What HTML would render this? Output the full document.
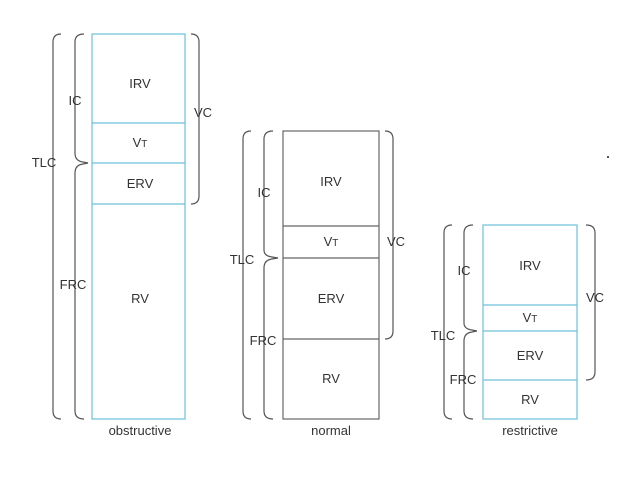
<!DOCTYPE html>
<html><head><style>body{margin:0;background:#fff}</style></head><body>
<svg width="638" height="479" xmlns="http://www.w3.org/2000/svg" font-family="Liberation Sans, sans-serif" font-size="13" fill="#333">
<g fill="none" stroke="#555" stroke-width="1.2">
<path d="M61,34 Q53,34 53,42 L53,411 Q53,419 61,419"/>
<path d="M84,34 Q75,34 75,42 L75,153 Q75,161 83,162 L88,163"/>
<path d="M88,163 L83,164 Q75,165 75,173 L75,411 Q75,419 84,419"/>
<path d="M191,34 Q199,34 199,42 L199,196 Q199,204 191,204"/>
<path d="M251,131 Q243,131 243,139 L243,411 Q243,419 251,419"/>
<path d="M273,131 Q264,131 264,139 L264,250 Q264,256 272,257 L278,258"/>
<path d="M278,258 L272,259 Q264,260 264,268 L264,411 Q264,419 273,419"/>
<path d="M385,131 Q393,131 393,139 L393,331 Q393,339 385,339"/>
<path d="M452,225 Q444,225 444,233 L444,411 Q444,419 452,419"/>
<path d="M473,225 Q464,225 464,233 L464,323 Q464,329 472,330 L477,331"/>
<path d="M477,331 L472,332 Q464,333 464,341 L464,411 Q464,419 473,419"/>
<path d="M586,225 Q595,225 595,233 L595,372 Q595,380 586,380"/>
</g>
<g fill="none" stroke="#6cc0dc" stroke-width="1.2">
<rect x="92" y="34" width="93" height="385"/>
<line x1="92" y1="123" x2="185" y2="123"/><line x1="92" y1="163" x2="185" y2="163"/><line x1="92" y1="204" x2="185" y2="204"/>
<rect x="483" y="225" width="94" height="194"/>
<line x1="483" y1="305" x2="577" y2="305"/><line x1="483" y1="331" x2="577" y2="331"/><line x1="483" y1="380" x2="577" y2="380"/>
</g>
<g fill="none" stroke="#666" stroke-width="1.2">
<rect x="283" y="131" width="96" height="288"/>
<line x1="283" y1="226" x2="379" y2="226"/><line x1="283" y1="258" x2="379" y2="258"/><line x1="283" y1="339" x2="379" y2="339"/>
</g>
<g text-anchor="middle">
<text x="140" y="88">IRV</text><text x="140" y="147">V<tspan font-size="10">T</tspan></text><text x="140" y="188">ERV</text><text x="140" y="303">RV</text>
<text x="331" y="186">IRV</text><text x="331" y="246">V<tspan font-size="10">T</tspan></text><text x="331" y="303">ERV</text><text x="331" y="383">RV</text>
<text x="530" y="270">IRV</text><text x="530" y="322">V<tspan font-size="10">T</tspan></text><text x="530" y="360">ERV</text><text x="530" y="404">RV</text>
<text x="75" y="105">IC</text><text x="44" y="167">TLC</text><text x="73" y="289">FRC</text><text x="203" y="117">VC</text>
<text x="264" y="197">IC</text><text x="242" y="264">TLC</text><text x="263" y="345">FRC</text><text x="396" y="246">VC</text>
<text x="464" y="275">IC</text><text x="443" y="340">TLC</text><text x="463" y="384">FRC</text><text x="595" y="302">VC</text>
<text x="140" y="435">obstructive</text><text x="331" y="435">normal</text><text x="530" y="435">restrictive</text>
</g>
<rect x="607" y="156" width="2" height="2" fill="#555"/>
</svg>
</body></html>
